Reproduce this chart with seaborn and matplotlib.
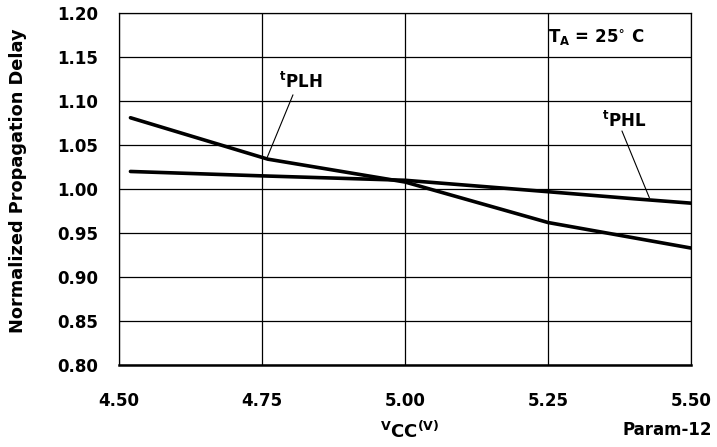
import matplotlib
matplotlib.use("Agg")
import matplotlib.pyplot as plt
import pandas as pd
import seaborn as sns

# data
vcc_plh = [4.52, 4.76, 5.00, 5.25, 5.50]
delay_plh = [1.081, 1.034, 1.008, 0.962, 0.933]
vcc_phl = [4.52, 4.75, 5.00, 5.25, 5.40, 5.50]
delay_phl = [1.020, 1.015, 1.010, 0.997, 0.989, 0.984]
x_ticks = [4.50, 4.75, 5.00, 5.25, 5.50]
y_ticks = [0.80, 0.85, 0.90, 0.95, 1.00, 1.05, 1.10, 1.15, 1.20]

df = pd.concat([
    pd.DataFrame({"vcc": vcc_plh, "delay": delay_plh, "series": "tPLH"}),
    pd.DataFrame({"vcc": vcc_phl, "delay": delay_phl, "series": "tPHL"}),
])

sns.set_style("white", {"text.color": "black", "axes.labelcolor": "black",
                        "xtick.color": "black", "ytick.color": "black"})
plt.rcParams["font.family"] = ["DejaVu Sans"]
plt.rcParams["font.weight"] = "bold"
plt.rcParams["mathtext.fontset"] = "dejavusans"

fig = plt.figure(figsize=(7.17, 4.47), dpi=100)
ax = fig.add_axes([0.166, 0.183, 0.798, 0.788])

sns.lineplot(data=df, x="vcc", y="delay", units="series", estimator=None,
             color="black", linewidth=2.6, ax=ax, legend=False)

ax.set_xlim(4.5, 5.5)
ax.set_ylim(0.80, 1.20)
ax.set_xticks(x_ticks)
ax.set_yticks(y_ticks)
ax.set_xticklabels([f"{v:.2f}" for v in x_ticks], fontsize=12, fontweight="bold")
ax.set_yticklabels([f"{v:.2f}" for v in y_ticks], fontsize=12, fontweight="bold")
ax.tick_params(axis="both", length=9, width=0.9, color="black", labelcolor="black")
ax.tick_params(axis="x", pad=10)
ax.tick_params(axis="y", pad=6)
ax.grid(True, color="black", linewidth=0.9)
ax.set_axisbelow(True)

for side in ["top", "right", "left"]:
    ax.spines[side].set_color("black")
    ax.spines[side].set_linewidth(0.9)
ax.spines["bottom"].set_color("black")
ax.spines["bottom"].set_linewidth(1.8)

ax.set_xlabel("")
ax.set_ylabel("Normalized Propagation Delay", fontsize=12.8, fontweight="bold", color="black")
ax.yaxis.set_label_coords(-0.16, 0.523)

fig.text(0.572, 0.02, r"$^{\mathbf{V}}$CC$^{\mathbf{(V)}}$", fontsize=13, fontweight="bold",
         ha="center", va="baseline", color="black")
fig.text(0.993, 0.027, "Param-12", fontsize=12, fontweight="bold", ha="right",
         va="baseline", color="black")

# annotations
ax.text(4.78, 1.115, r"$^{\mathbf{t}}$PLH", fontsize=12, fontweight="bold", va="baseline")
ax.plot([4.804, 4.759], [1.107, 1.036], color="black", linewidth=0.8)
ax.text(5.344, 1.070, r"$^{\mathbf{t}}$PHL", fontsize=12, fontweight="bold", va="baseline")
ax.plot([5.379, 5.427], [1.066, 0.990], color="black", linewidth=0.8)
ax.text(5.25, 1.166, r"T$_{\mathbf{A}}$ = 25$^{\circ}$ C", fontsize=12, fontweight="bold",
        va="baseline")

fig.savefig("out.png", dpi=100)
